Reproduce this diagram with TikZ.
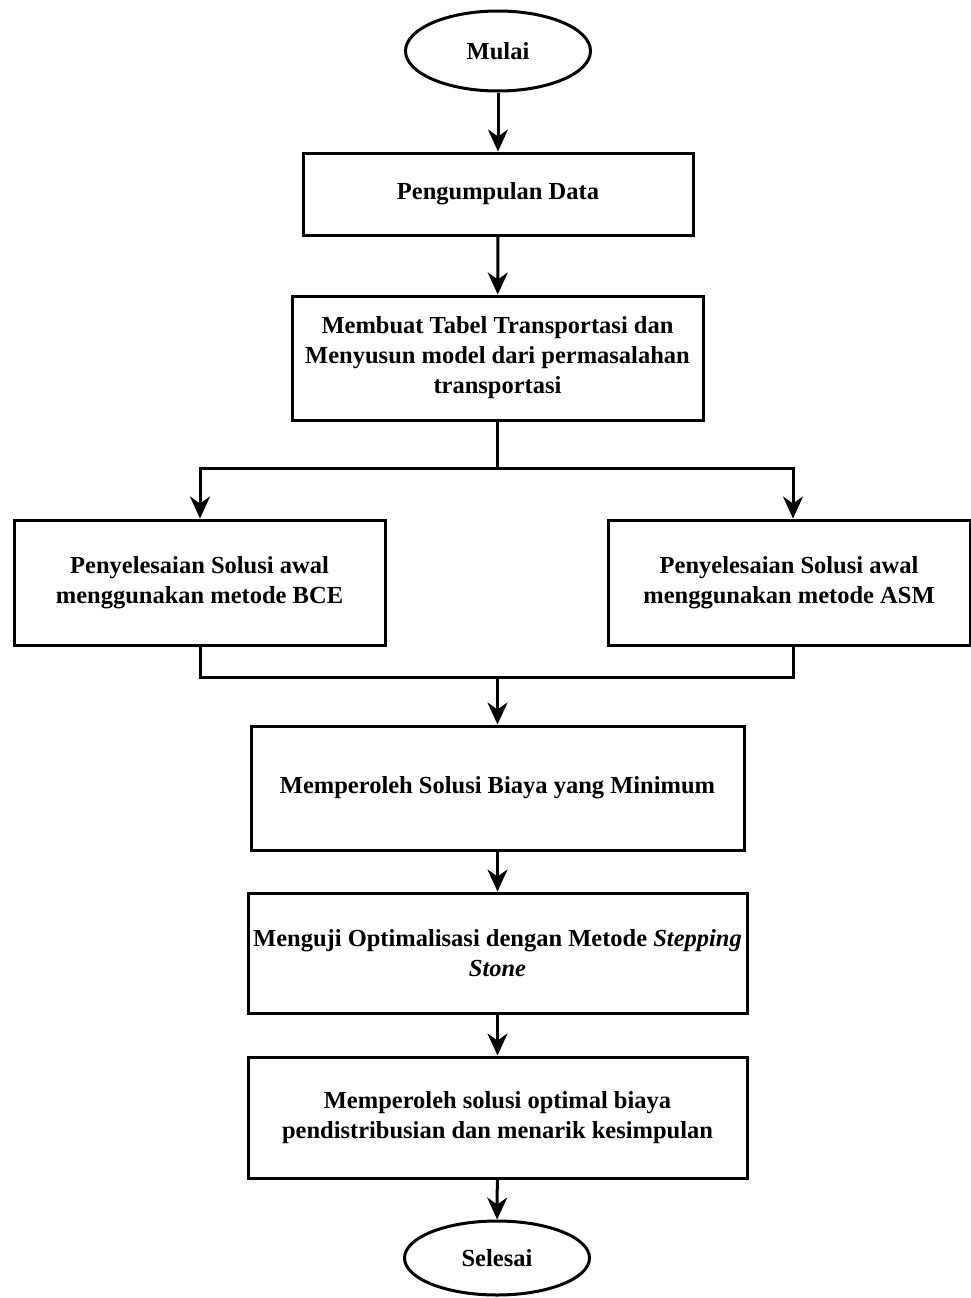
\documentclass[tikz,border=0pt]{standalone}
\usepackage{fontspec}
\setmainfont{Liberation Serif}
\usetikzlibrary{arrows.meta,shapes.geometric}
\begin{document}
\begin{tikzpicture}[x=1pt,y=1pt,
  every node/.style={font=\fontsize{24.5}{30}\selectfont\bfseries, align=center, inner sep=0pt},
  proc/.style={draw, line width=3pt, minimum width=#1, rectangle},
  term/.style={draw, line width=3pt, ellipse},
  conn/.style={line width=3pt},
  arr/.style={line width=3pt, -{Stealth[length=22pt,width=20pt,inset=7pt]}}
]
\useasboundingbox (0,0) rectangle (971,-1298);
\node[term, minimum width=185pt, minimum height=80pt] (start) at (498,-51) {Mulai};
\node[proc=390pt, minimum height=82pt] (b1) at (498,-194) {Pengumpulan Data};
\node[proc=411pt, minimum height=124pt] (b2) at (497.5,-358) {Membuat Tabel Transportasi dan\\Menyusun model dari permasalahan\\transportasi};
\node[proc=371pt, minimum height=125pt] (bl) at (199.5,-582.5) {Penyelesaian Solusi awal\\menggunakan metode BCE};
\node[proc=362pt, minimum height=125pt] (br) at (789,-582.5) {Penyelesaian Solusi awal\\menggunakan metode ASM};
\node[proc=493pt, minimum height=124pt] (b4) at (497.5,-788) {Memperoleh Solusi Biaya yang Minimum};
\node[proc=499pt, minimum height=120pt] (b5) at (497.5,-953) {Menguji Optimalisasi dengan Metode \textit{Stepping}\\\textit{Stone}};
\node[proc=499pt, minimum height=121pt] (b6) at (497.5,-1117.5) {Memperoleh solusi optimal biaya\\pendistribusian dan menarik kesimpulan};
\node[term, minimum width=185pt, minimum height=74pt] (end) at (497,-1258) {Selesai};

\coordinate (split) at (497.5,-468);
\coordinate (join) at (497.5,-677);

\draw[arr] (start) -- (b1);
\draw[arr] (b1) -- (b2);
\draw[conn] (b2.south) -- (split);
\draw[arr] (split) -| ([xshift=0.5pt]bl.north);
\draw[arr] (split) -| ([xshift=4pt]br.north);
\draw[conn] ([xshift=0.5pt]bl.south) |- (join);
\draw[conn] ([xshift=4pt]br.south) |- (join);
\draw[arr] (join) -- (b4);
\draw[arr] (b4) -- (b5);
\draw[arr] (b5) -- (b6);
\draw[arr] (b6) -- (end);
\end{tikzpicture}
\end{document}
